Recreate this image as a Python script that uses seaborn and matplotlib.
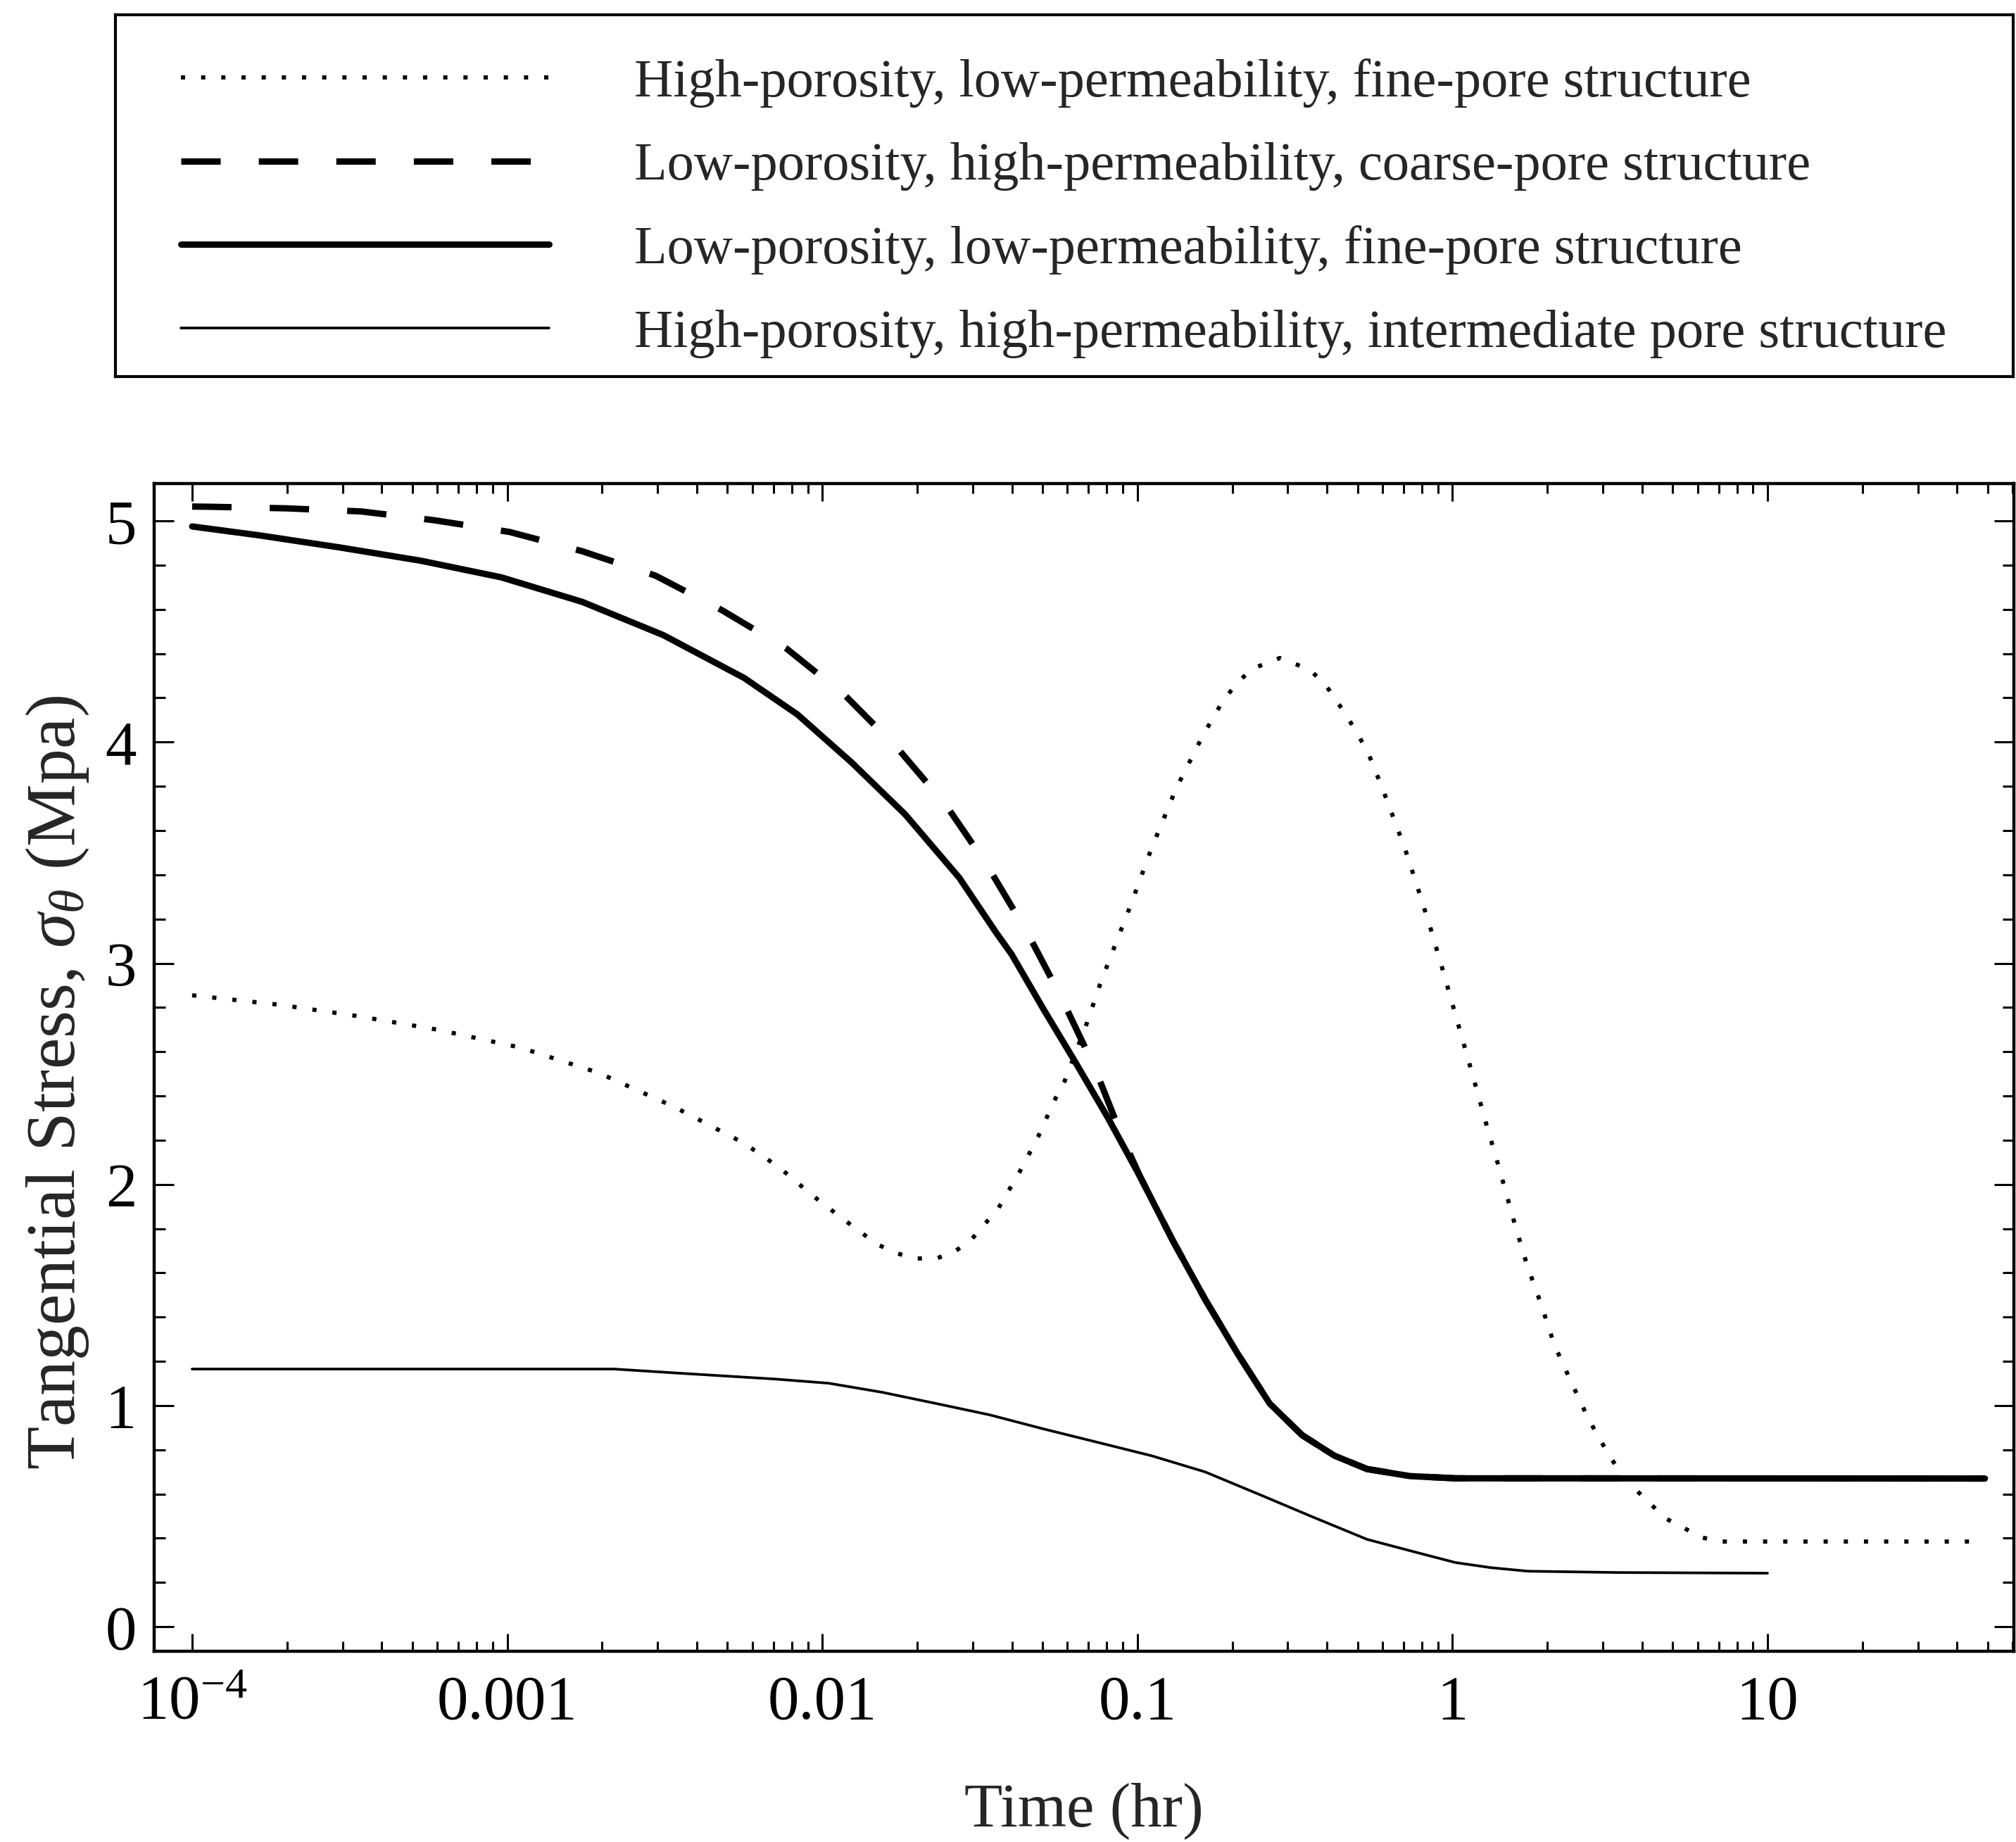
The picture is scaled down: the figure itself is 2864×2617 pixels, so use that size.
import numpy as np
import pandas as pd
import matplotlib
matplotlib.use("Agg")
import matplotlib.pyplot as plt
import seaborn as sns
from matplotlib.ticker import FixedLocator, FixedFormatter, MultipleLocator

# ---------------- data ----------------
series_labels = [
    "High-porosity, low-permeability, fine-pore structure",
    "Low-porosity, high-permeability, coarse-pore structure",
    "Low-porosity, low-permeability, fine-pore structure",
    "High-porosity, high-permeability, intermediate pore structure",
]

# log10(time in hr) and tangential stress (MPa)
dot_logt = [-4.0, -3.727, -3.479, -3.223, -2.959, -2.711, -2.472, -2.248, -2.135,
            -2.032, -1.931, -1.828, -1.768, -1.703, -1.638, -1.580, -1.529,
            -1.442, -1.375, -1.315, -1.263, -1.230, -1.160, -1.118, -1.093,
            -1.022, -0.955, -0.877, -0.792, -0.727, -0.684, -0.638, -0.548,
            -0.457, -0.408, -0.336, -0.27, -0.222, -0.151, -0.110, -0.072,
            -0.032, 0.019, 0.057, 0.108, 0.147, 0.198, 0.238, 0.281, 0.323,
            0.379, 0.433, 0.498, 0.537, 0.578, 0.625, 0.676, 0.73, 0.79, 0.85,
            1.0, 1.68]
dot_stress = [2.855, 2.813, 2.762, 2.70, 2.619, 2.505, 2.352, 2.186, 2.075,
              1.951, 1.840, 1.731, 1.69, 1.665, 1.665, 1.696, 1.747,
              1.89, 2.053, 2.215, 2.38, 2.47, 2.73, 2.906, 3.00,
              3.26, 3.52, 3.79, 4.03, 4.19, 4.265, 4.33, 4.38,
              4.33, 4.27, 4.12, 3.96, 3.79, 3.52, 3.34, 3.17,
              2.976, 2.72, 2.53, 2.27, 2.08, 1.82, 1.63, 1.46, 1.276,
              1.10, 0.936, 0.773, 0.69, 0.625, 0.56, 0.49, 0.45, 0.404, 0.385,
              0.385, 0.385]

dash_logt = [-4.0, -3.942, -3.703, -3.464, -3.231, -2.992, -2.762, -2.53, -2.318,
             -2.112, -1.925, -1.761, -1.607, -1.48, -1.35, -1.245, -1.136, -1.05,
             -0.991, -0.888, -0.785, -0.682, -0.580, -0.477, -0.374, -0.271,
             -0.135, 0.010, 1.69]
dash_stress = [5.065, 5.064, 5.057, 5.043, 5.003, 4.95, 4.863, 4.753, 4.596,
               4.421, 4.207, 3.972, 3.714, 3.45, 3.14, 2.855, 2.53, 2.22,
               2.034, 1.747, 1.48, 1.235, 1.009, 0.866, 0.773, 0.713,
               0.681, 0.671, 0.67]

solid_logt = [-4.0, -3.788, -3.531, -3.274, -3.019, -2.762, -2.505, -2.248, -2.079,
              -1.907, -1.737, -1.565, -1.449, -1.399, -1.297, -1.194, -1.093,
              -0.991, -0.888, -0.785, -0.682, -0.580, -0.477, -0.374, -0.271,
              -0.135, 0.010, 1.69]
solid_stress = [4.975, 4.935, 4.88, 4.82, 4.745, 4.634, 4.484, 4.29, 4.125,
                3.908, 3.673, 3.386, 3.14, 3.04, 2.79, 2.546, 2.30,
                2.034, 1.747, 1.48, 1.235, 1.009, 0.866, 0.773, 0.713,
                0.681, 0.671, 0.67]

thin_logt = [-4.0, -2.66, -2.45, -2.152, -1.980, -1.810, -1.638, -1.469, -1.297,
             -1.127, -0.955, -0.785, -0.613, -0.443, -0.271, -0.101, 0.010,
             0.122, 0.240, 0.529, 1.0]
thin_stress = [1.165, 1.165, 1.146, 1.120, 1.101, 1.060, 1.009, 0.958, 0.894,
               0.834, 0.773, 0.700, 0.598, 0.496, 0.395, 0.331, 0.290,
               0.267, 0.251, 0.245, 0.242]

xtick_vals = [1e-4, 1e-3, 1e-2, 1e-1, 1, 10]
xtick_labels = [r"$10^{-4}$", "0.001", "0.01", "0.1", "1", "10"]
ytick_vals = [0, 1, 2, 3, 4, 5]

# ---------------- style ----------------
sns.set_style("ticks")
plt.rcParams["font.family"] = ["Liberation Serif", "DejaVu Serif"]
plt.rcParams["mathtext.fontset"] = "custom"
plt.rcParams["mathtext.rm"] = "Liberation Serif"
plt.rcParams["mathtext.it"] = "Liberation Serif:italic"
plt.rcParams["mathtext.bf"] = "Liberation Serif:bold"

W, H = 2864, 2617
fig = plt.figure(figsize=(W / 100, H / 100), dpi=100)
fig.patch.set_facecolor("white")

ax = fig.add_axes([219 / W, 1 - 2346 / H, (2861 - 219) / W, (2346 - 687) / H])
ax.set_facecolor("white")
ax.set_xscale("log")

specs = [
    (dot_logt, dot_stress, dict(linewidth=4.3, linestyle=(0, (1.0, 3.8)))),
    (dash_logt, dash_stress, dict(linewidth=6.5, linestyle=(0, (6.2, 6.0)))),
    (solid_logt, solid_stress, dict(linewidth=6.5, linestyle="-")),
    (thin_logt, thin_stress, dict(linewidth=2.7, linestyle="-")),
]
for (lt, st, kw), lab in zip(specs, series_labels):
    df = pd.DataFrame({"time": np.power(10.0, lt), "stress": st})
    sns.lineplot(data=df, x="time", y="stress", ax=ax, color="black",
                 label=lab, sort=False, estimator=None, **kw)

if ax.get_legend() is not None:
    ax.get_legend().remove()

ax.set_xlim(10 ** -4.1206, 10 ** 1.782)
ax.set_ylim(-0.111, 5.169)

ax.xaxis.set_major_locator(FixedLocator(xtick_vals))
ax.xaxis.set_major_formatter(FixedFormatter(xtick_labels))
minor_x = [m * 10.0 ** d for d in range(-4, 2) for m in range(2, 10)]
ax.xaxis.set_minor_locator(FixedLocator(minor_x))
ax.xaxis.set_minor_formatter(FixedFormatter([""] * len(minor_x)))
ax.yaxis.set_major_locator(FixedLocator(ytick_vals))
ax.yaxis.set_minor_locator(MultipleLocator(0.2))

ax.tick_params(which="both", direction="in", top=True, right=True,
               color="black", labelcolor="black")
ax.tick_params(axis="x", which="major", length=18, width=2.2, labelsize=64, pad=69)
ax.tick_params(axis="x", which="minor", length=10, width=2.2)
ax.tick_params(axis="y", which="major", length=20, width=2.2, labelsize=64, pad=18)
ax.tick_params(axis="y", which="minor", length=11.5, width=2.2)
for lbl in ax.get_xticklabels():
    lbl.set_verticalalignment("baseline")
for sp in ax.spines.values():
    sp.set_linewidth(3.2)
    sp.set_color("black")
    sp.set_visible(True)

ax.set_xlabel("Time (hr)", fontsize=64)
ax.set_ylabel(r"Tangential Stress, $\sigma_\theta$ (Mpa)", fontsize=72)
ax.xaxis.set_label_coords(0.5, -0.112)
ax.yaxis.set_label_coords(-0.034, 0.487)

# ---------------- legend box ----------------
ax_leg = fig.add_axes([164 / W, 1 - 535 / H, (2860 - 164) / W, (535 - 21) / H])
ax_leg.set_xticks([])
ax_leg.set_yticks([])
ax_leg.set_facecolor("white")
for sp in ax_leg.spines.values():
    sp.set_linewidth(3.0)
    sp.set_color("black")
    sp.set_visible(True)

handles, labels = ax.get_legend_handles_labels()
ax_leg.legend(handles, labels, loc="upper left",
              bbox_to_anchor=((257 - 164) / 2696, 1 - (83 - 21) / 514),
              frameon=False, fontsize=55, handlelength=6.85,
              handletextpad=1.58, labelspacing=0.64, borderpad=0,
              borderaxespad=0)

fig.savefig("out.png", dpi=100, facecolor="white")
